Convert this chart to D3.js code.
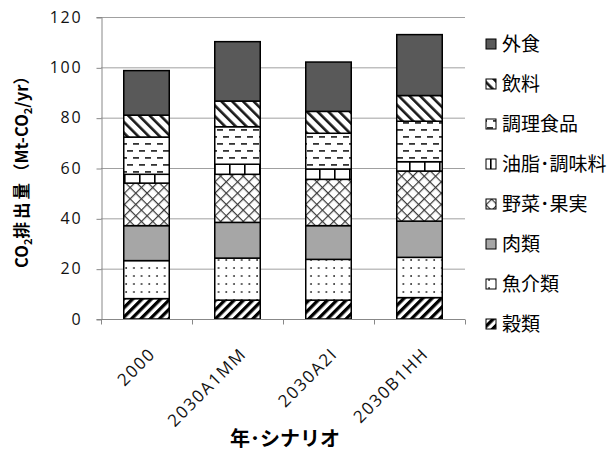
<!DOCTYPE html>
<html>
<head>
<meta charset="utf-8">
<script src="https://cdn.jsdelivr.net/npm/d3@7"></script>
<style>
  html, body { margin: 0; padding: 0; background: #fff; }
  svg { display: block; }
</style>
</head>
<body>
<svg id="chart" width="612" height="451"></svg>
<script>
// Scenarios on the x axis
const scenarios = ["2000", "2030A1MM", "2030A2I", "2030B1HH"];

// Food categories, bottom of the stack first
const categories = ["穀類", "魚介類", "肉類", "野菜・果実", "油脂・調味料", "調理食品", "飲料", "外食"];
const legendLabels = ["穀類", "魚介類", "肉類", "野菜･果実", "油脂･調味料", "調理食品", "飲料", "外食"];

// CO2 emissions per category (Mt-CO2/yr), one value per scenario
const grain      = [8.1, 7.5, 7.5, 8.5];
const seafood    = [15.1, 16.7, 16.2, 16.0];
const meat       = [13.9, 14.2, 13.4, 14.4];
const vegFruit   = [16.9, 19.1, 18.4, 19.9];
const oilSeason  = [3.5, 4.0, 4.1, 3.7];
const prepared   = [14.8, 14.9, 14.2, 16.1];
const beverages  = [8.7, 10.2, 8.7, 10.2];
const eatingOut  = [17.7, 23.6, 19.6, 24.2];

const yTicks = [0, 20, 40, 60, 80, 100, 120];

const seriesValues = [grain, seafood, meat, vegFruit, oilSeason, prepared, beverages, eatingOut];

const rows = scenarios.map((s, i) => {
  const r = { scenario: s };
  categories.forEach((c, k) => { r[c] = seriesValues[k][i]; });
  return r;
});

const stacked = d3.stack().keys(categories)(rows);

const svg = d3.select("#chart");
const plot = { left: 101, right: 465, top: 17, bottom: 319 };

const x = d3.scaleBand().domain(scenarios)
  .range([plot.left, plot.right])
  .paddingInner(0.5).paddingOuter(0.25);
const y = d3.scaleLinear().domain([0, 120]).range([plot.bottom, plot.top]);

// ---- fill patterns ----
const defs = svg.append("defs");

function stripe(id, angle, w, lineW, color) {
  const p = defs.append("pattern").attr("id", id)
    .attr("patternUnits", "userSpaceOnUse")
    .attr("width", w).attr("height", w)
    .attr("patternTransform", `rotate(${angle})`);
  p.append("rect").attr("width", w).attr("height", w).attr("fill", "#fff");
  p.append("rect").attr("x", 0).attr("width", lineW).attr("height", w).attr("fill", color);
  return p;
}
stripe("p-grain", 45, 6.6, 3.3, "#000");
stripe("p-bev", -45, 7.6, 2.6, "#1a1a1a");

// cross hatch
(function () {
  const w = 8;
  const p = defs.append("pattern").attr("id", "p-veg")
    .attr("patternUnits", "userSpaceOnUse")
    .attr("width", w).attr("height", w)
    .attr("patternTransform", "rotate(45)");
  p.append("rect").attr("width", w).attr("height", w).attr("fill", "#fff");
  p.append("rect").attr("x", 0).attr("width", 1.2).attr("height", w).attr("fill", "#3a3a3a");
  p.append("rect").attr("y", 0).attr("height", 1.2).attr("width", w).attr("fill", "#3a3a3a");
})();

// vertical lines
(function () {
  const w = 15;
  const p = defs.append("pattern").attr("id", "p-oil")
    .attr("patternUnits", "userSpaceOnUse")
    .attr("width", w).attr("height", 10).attr("x", 4);
  p.append("rect").attr("width", w).attr("height", 10).attr("fill", "#fff");
  p.append("rect").attr("x", 0).attr("width", 1.6).attr("height", 10).attr("fill", "#000");
})();

// staggered horizontal dashes
(function () {
  const p = defs.append("pattern").attr("id", "p-prep")
    .attr("patternUnits", "userSpaceOnUse")
    .attr("width", 12).attr("height", 14);
  p.append("rect").attr("width", 12).attr("height", 14).attr("fill", "#fff");
  p.append("rect").attr("x", 1).attr("y", 3).attr("width", 6).attr("height", 1.8).attr("fill", "#333");
  p.append("rect").attr("x", 7).attr("y", 10).attr("width", 6).attr("height", 1.8).attr("fill", "#333");
  p.append("rect").attr("x", -5).attr("y", 10).attr("width", 6).attr("height", 1.8).attr("fill", "#333");
})();

// sparse dots
(function () {
  const p = defs.append("pattern").attr("id", "p-fish")
    .attr("patternUnits", "userSpaceOnUse")
    .attr("width", 7.7).attr("height", 8);
  p.append("rect").attr("width", 7.7).attr("height", 8).attr("fill", "#fff");
  p.append("circle").attr("cx", 3).attr("cy", 4).attr("r", 0.9).attr("fill", "#222");
})();

const fills = {
  "穀類": "url(#p-grain)",
  "魚介類": "url(#p-fish)",
  "肉類": "#a6a6a6",
  "野菜・果実": "url(#p-veg)",
  "油脂・調味料": "url(#p-oil)",
  "調理食品": "url(#p-prep)",
  "飲料": "url(#p-bev)",
  "外食": "#595959"
};

// ---- gridlines ----
svg.append("g").selectAll("line").data(yTicks.filter(t => t > 0)).join("line")
  .attr("x1", plot.left).attr("x2", plot.right)
  .attr("y1", d => y(d) + 0.5).attr("y2", d => y(d) + 0.5)
  .attr("stroke", "#a0a0a0").attr("stroke-width", 1);

// ---- y axis ----
const yAxis = svg.append("g").attr("transform", `translate(${plot.left + 0.5},0)`)
  .call(d3.axisLeft(y).tickValues(yTicks).tickSize(5).tickPadding(14));
yAxis.select(".domain").attr("stroke", "#888");
yAxis.selectAll(".tick line").attr("stroke", "#888").attr("transform", "translate(0,0.5)");
yAxis.selectAll(".tick text")
  .attr("font-family", "'Open Sans', sans-serif").attr("font-size", 16)
  .attr("letter-spacing", "1.8px").attr("fill", "#111");

// ---- bars ----
svg.append("g").selectAll("g").data(stacked).join("g")
  .attr("fill", d => fills[d.key])
  .selectAll("rect").data(d => d).join("rect")
  .attr("x", d => x(d.data.scenario))
  .attr("width", x.bandwidth())
  .attr("y", d => y(d[1]))
  .attr("height", d => y(d[0]) - y(d[1]))
  .attr("stroke", "#000").attr("stroke-width", 1.5);

// ---- x axis ----
const xAxisY = plot.bottom + 0.5;
svg.append("line").attr("x1", plot.left).attr("x2", plot.right)
  .attr("y1", xAxisY).attr("y2", xAxisY).attr("stroke", "#888");
const step = x.step();
const boundaries = d3.range(scenarios.length + 1).map(i => plot.left + i * step);
svg.append("g").selectAll("line").data(boundaries).join("line")
  .attr("x1", d => Math.round(d) + 0.5).attr("x2", d => Math.round(d) + 0.5)
  .attr("y1", xAxisY).attr("y2", xAxisY + 5).attr("stroke", "#888");

svg.append("g").selectAll("text").data(scenarios).join("text")
  .attr("transform", d => `translate(${x(d) + x.bandwidth() / 2 + 10},${plot.bottom + 36}) rotate(-45)`)
  .attr("text-anchor", "end")
  .attr("font-family", "'Open Sans', sans-serif").attr("font-size", 17)
  .attr("letter-spacing", "1.6px")
  .attr("fill", "#111")
  .text(d => d);

// ---- axis titles ----
svg.append("text")
  .attr("x", (plot.left + plot.right) / 2 + 2).attr("y", 446)
  .attr("text-anchor", "middle")
  .attr("font-family", "'Noto Sans CJK JP', sans-serif").attr("font-size", 20)
  .attr("font-weight", "bold").attr("fill", "#000")
  .text("年･シナリオ");

const yTitle = svg.append("text")
  .attr("transform", "translate(28,168) rotate(-90)")
  .attr("text-anchor", "middle")
  .attr("font-family", "'Noto Sans CJK JP', sans-serif").attr("font-size", 16.5)
  .attr("font-weight", "bold").attr("fill", "#000");
yTitle.append("tspan").text("CO");
yTitle.append("tspan").attr("font-size", 11).attr("dy", 4).text("2");
yTitle.append("tspan").attr("dy", -4).attr("letter-spacing", "3px").text("排出量");
yTitle.append("tspan").text("（Mt-CO");
yTitle.append("tspan").attr("font-size", 11).attr("dy", 4).text("2");
yTitle.append("tspan").attr("dy", -4).text("/yr）");

// ---- legend (top item is the top of the stack) ----
const legendOrder = categories.slice().reverse();
const legend = svg.append("g").selectAll("g").data(legendOrder).join("g")
  .attr("transform", (d, i) => `translate(486,${44 + i * 40})`);
legend.append("rect")
  .attr("x", 0).attr("y", -5).attr("width", 10).attr("height", 10)
  .attr("fill", d => fills[d]).attr("stroke", "#000").attr("stroke-width", 1);
legend.append("text")
  .attr("x", 16).attr("y", 0).attr("dy", "0.36em")
  .attr("font-family", "'Noto Sans CJK JP', sans-serif").attr("font-size", 19)
  .attr("fill", "#000")
  .text(d => legendLabels[categories.indexOf(d)]);
</script>
</body>
</html>
